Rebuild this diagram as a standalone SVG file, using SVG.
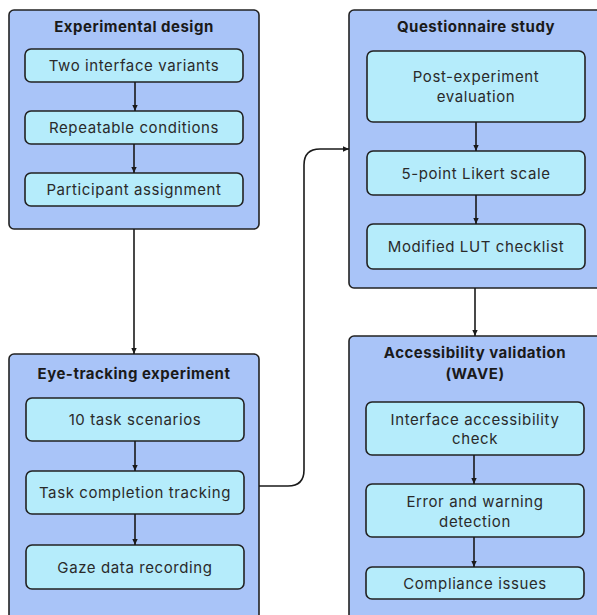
<svg xmlns="http://www.w3.org/2000/svg" width="597" height="615" viewBox="0 0 597 615">
<defs>
<style>
.grp{fill:#a9c4f8;stroke:#222;stroke-width:1.6}
.box{fill:#b5ecfb;stroke:#222;stroke-width:1.6}
.t{font-family:Inter,"Open Sans","Liberation Sans",sans-serif;font-size:15px;fill:#2a2a2a;text-anchor:middle;dominant-baseline:central;letter-spacing:0.6px}
.h{font-family:Inter,"Open Sans","Liberation Sans",sans-serif;font-size:15px;font-weight:bold;fill:#1a1a1a;text-anchor:middle;dominant-baseline:central;letter-spacing:0.5px}
.c{fill:none;stroke:#1a1a1a;stroke-width:1.6}
</style>
<marker id="ah" viewBox="0 0 10 10" refX="9" refY="5" markerWidth="7" markerHeight="7" markerUnits="userSpaceOnUse" orient="auto">
<path d="M0,1 L9,5 L0,9 Z" fill="#1a1a1a"/>
</marker>
</defs>
<rect width="597" height="615" fill="#fff"/>

<g id="experimental-design">
<rect class="grp" x="9" y="10" width="250" height="219" rx="5"/>
<text class="h" x="134" y="26">Experimental design</text>
<rect class="box" x="25" y="49" width="218" height="33" rx="6"/>
<text class="t" x="134" y="65.5">Two interface variants</text>
<rect class="box" x="25" y="111" width="218" height="33" rx="6"/>
<text class="t" x="134" y="127.5">Repeatable conditions</text>
<rect class="box" x="25" y="173" width="218" height="33" rx="6"/>
<text class="t" x="134" y="189.5">Participant assignment</text>
<line class="c" x1="135" y1="82" x2="135" y2="111" marker-end="url(#ah)"/>
<line class="c" x1="134" y1="144" x2="134" y2="173" marker-end="url(#ah)"/>
</g>

<g id="questionnaire-study">
<rect class="grp" x="349" y="10" width="255" height="278" rx="5"/>
<text class="h" x="476" y="26">Questionnaire study</text>
<rect class="box" x="367" y="51" width="218" height="71" rx="6"/>
<text class="t" x="476" y="76">Post-experiment</text>
<text class="t" x="476" y="96">evaluation</text>
<rect class="box" x="367" y="151" width="218" height="44" rx="6"/>
<text class="t" x="476" y="173">5-point Likert scale</text>
<rect class="box" x="367" y="224" width="218" height="45" rx="6"/>
<text class="t" x="476" y="246.5">Modified LUT checklist</text>
<line class="c" x1="476" y1="122" x2="476" y2="151" marker-end="url(#ah)"/>
<line class="c" x1="476" y1="195" x2="476" y2="224" marker-end="url(#ah)"/>
</g>

<g id="eye-tracking-experiment">
<rect class="grp" x="9" y="354" width="250" height="270" rx="5"/>
<text class="h" x="134" y="373">Eye-tracking experiment</text>
<rect class="box" x="26" y="398" width="218" height="43" rx="6"/>
<text class="t" x="135" y="419.5">10 task scenarios</text>
<rect class="box" x="26" y="471" width="218" height="43" rx="6"/>
<text class="t" x="135" y="492.5">Task completion tracking</text>
<rect class="box" x="26" y="545" width="218" height="44" rx="6"/>
<text class="t" x="135" y="567">Gaze data recording</text>
<line class="c" x1="135" y1="441" x2="135" y2="471" marker-end="url(#ah)"/>
<line class="c" x1="135" y1="514" x2="135" y2="545" marker-end="url(#ah)"/>
</g>

<g id="accessibility-validation">
<rect class="grp" x="349" y="336" width="255" height="290" rx="5"/>
<text class="h" x="475" y="352">Accessibility validation</text>
<text class="h" x="475" y="373">(WAVE)</text>
<rect class="box" x="366" y="402" width="218" height="53" rx="6"/>
<text class="t" x="475" y="419">Interface accessibility</text>
<text class="t" x="475" y="438">check</text>
<rect class="box" x="366" y="484" width="218" height="53" rx="6"/>
<text class="t" x="475" y="501">Error and warning</text>
<text class="t" x="475" y="521">detection</text>
<rect class="box" x="366" y="567" width="218" height="32" rx="6"/>
<text class="t" x="475" y="583">Compliance issues</text>
<line class="c" x1="474" y1="455" x2="474" y2="484" marker-end="url(#ah)"/>
<line class="c" x1="474" y1="537" x2="474" y2="567" marker-end="url(#ah)"/>
</g>

<g id="connectors">
<line class="c" x1="134" y1="229" x2="134" y2="354" marker-end="url(#ah)"/>
<path class="c" d="M259,486 L288,486 Q304,486 304,470 L304,165 Q304,149 320,149 L349,149" marker-end="url(#ah)"/>
<line class="c" x1="475" y1="288" x2="475" y2="336" marker-end="url(#ah)"/>
</g>
</svg>
